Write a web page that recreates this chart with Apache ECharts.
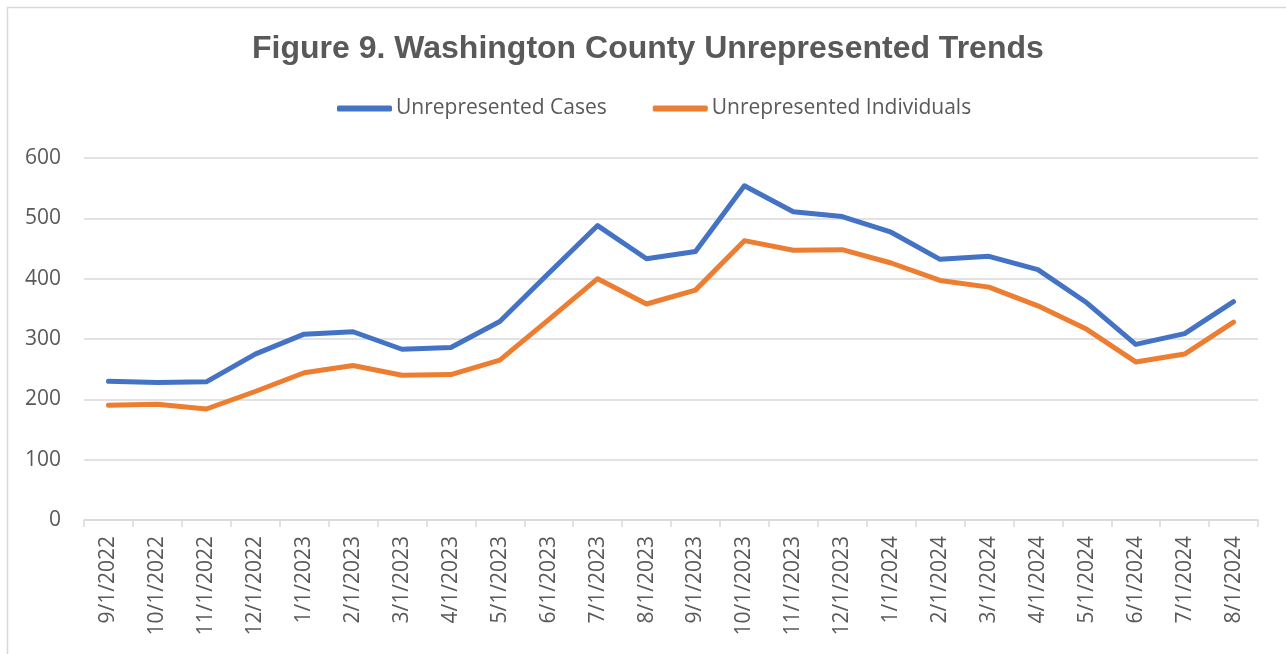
<!DOCTYPE html>
<html>
<head>
<meta charset="utf-8">
<script src="https://cdn.jsdelivr.net/npm/echarts@6/dist/echarts.min.js"></script>
<style>
  html, body { margin: 0; padding: 0; background: #fff; }
  #main { width: 1286px; height: 654px; }
</style>
</head>
<body>
<div id="main"></div>
<script>
  const months = [
    "9/1/2022", "10/1/2022", "11/1/2022", "12/1/2022", "1/1/2023", "2/1/2023",
    "3/1/2023", "4/1/2023", "5/1/2023", "6/1/2023", "7/1/2023", "8/1/2023",
    "9/1/2023", "10/1/2023", "11/1/2023", "12/1/2023", "1/1/2024", "2/1/2024",
    "3/1/2024", "4/1/2024", "5/1/2024", "6/1/2024", "7/1/2024", "8/1/2024"
  ];
  const unrepCases = [
    230, 228, 229, 275, 308, 312, 283, 286, 329, 409, 488, 433,
    445, 554, 511, 503, 477, 432, 437, 415, 360, 291, 309, 362
  ];
  const unrepIndividuals = [
    190, 192, 184, 213, 244, 256, 240, 241, 265, 332, 400, 358,
    381, 463, 447, 448, 426, 397, 386, 355, 316, 262, 275, 328
  ];
  const yTicks = { min: 0, max: 600, interval: 100 };

  const chart = echarts.init(document.getElementById("main"));
  const textColor = "#595959";
  const gridColor = "#D9D9D9";
  const font = "'Open Sans', 'Noto Sans', sans-serif";

  const option = {
    animation: false,
    backgroundColor: "#fff",
    graphic: [
      {
        type: "rect",
        shape: { x: 7.5, y: 7.5, width: 1300, height: 700 },
        style: { fill: "none", stroke: gridColor, lineWidth: 1.5 },
        silent: true
      }
    ],
    title: {
      text: "Figure 9. Washington County Unrepresented Trends",
      left: 247,
      top: 28,
      textStyle: {
        fontFamily: "'Liberation Sans', Arial, sans-serif",
        fontWeight: "bold",
        fontSize: 32,
        color: textColor
      }
    },
    legend: {
      top: 93,
      left: 332,
      itemWidth: 55,
      itemHeight: 6,
      itemGap: 46,
      icon: "roundRect",
      textStyle: { fontFamily: font, fontSize: 21, color: textColor, padding: [0, 0, 0, -1] },
      data: ["Unrepresented Cases", "Unrepresented Individuals"]
    },
    grid: { left: 84, right: 28, top: 158, bottom: 134 },
    xAxis: {
      type: "category",
      data: months,
      boundaryGap: true,
      axisLine: { lineStyle: { color: gridColor, width: 1.5 } },
      axisTick: { show: true, length: 7, lineStyle: { color: gridColor, width: 1.5 } },
      axisLabel: {
        rotate: 90,
        interval: 0,
        margin: 16,
        color: textColor,
        fontFamily: font,
        fontSize: 21
      }
    },
    yAxis: {
      type: "value",
      min: yTicks.min,
      max: yTicks.max,
      interval: yTicks.interval,
      axisLine: { show: false },
      axisTick: { show: false },
      splitLine: { lineStyle: { color: gridColor, width: 1.5 } },
      axisLabel: { margin: 23, color: textColor, fontFamily: font, fontSize: 21 }
    },
    series: [
      {
        name: "Unrepresented Cases",
        type: "line",
        data: unrepCases,
        showSymbol: false,
        symbol: "none",
        color: "#4472C4",
        lineStyle: { width: 5, color: "#4472C4", cap: "round", join: "round" }
      },
      {
        name: "Unrepresented Individuals",
        type: "line",
        data: unrepIndividuals,
        showSymbol: false,
        symbol: "none",
        color: "#ED7D31",
        lineStyle: { width: 5, color: "#ED7D31", cap: "round", join: "round" }
      }
    ]
  };

  chart.setOption(option);
</script>
</body>
</html>
